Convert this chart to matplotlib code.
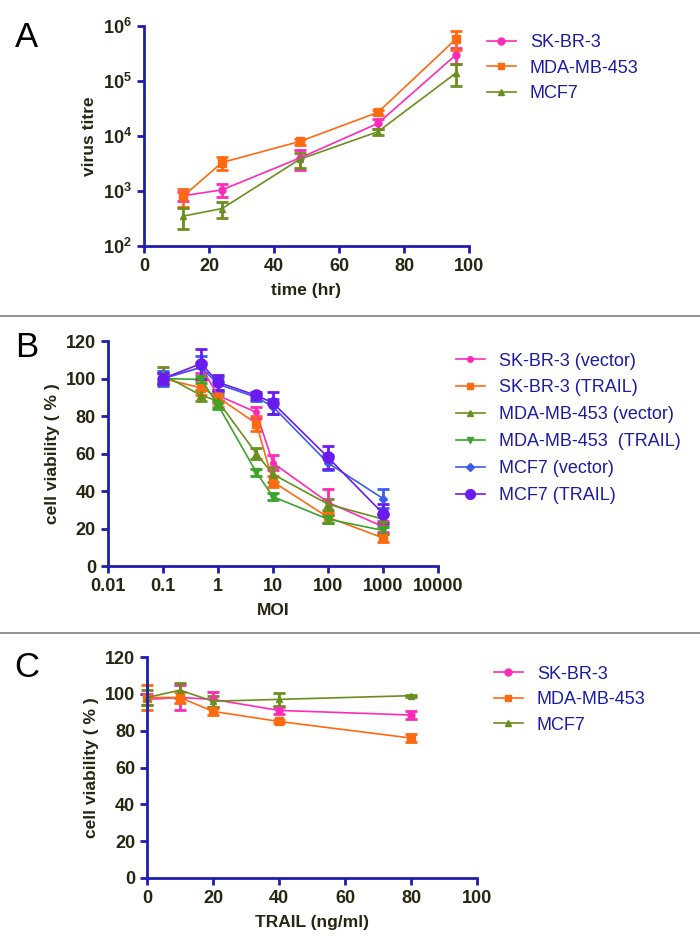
import numpy as np
import matplotlib.pyplot as plt
from matplotlib.lines import Line2D

plt.rcParams['font.family'] = ['Liberation Sans', 'DejaVu Sans']
plt.rcParams['mathtext.fontset'] = 'custom'
plt.rcParams['mathtext.rm'] = 'Liberation Sans:bold'
plt.rcParams['mathtext.bf'] = 'Liberation Sans:bold'

# Panel A: virus titre over time
time_hr = [12, 24, 48, 72, 96]
titre_skbr3 = [820, 1050, 4000, 17000, 300000]
titre_skbr3_err = [150, 280, 1600, 3500, 100000]
titre_mda = [800, 3300, 8000, 27000, 580000]
titre_mda_err = [280, 900, 1000, 2500, 220000]
titre_mcf7 = [350, 480, 3800, 12000, 140000]
titre_mcf7_err = [150, 160, 1200, 1500, 60000]

# Panel B: viability vs MOI
moi = [0.1, 0.5, 1, 5, 10, 100, 1000]
via_skbr3_vec = [100, 106, 91, 82, 55, 34, 21]
via_skbr3_vec_err = [3, 3, 3, 3, 4, 7, 3]
via_skbr3_trail = [100, 95, 90, 76, 45, 26, 15]
via_skbr3_trail_err = [3, 4, 3, 4, 3, 3, 2]
via_mda_vec = [102, 91, 88, 60, 49, 33, 25]
via_mda_vec_err = [4, 3, 3, 3, 4, 3, 3]
via_mda_trail = [100, 99.5, 86, 50, 37, 25, 19]
via_mda_trail_err = [3, 2, 2, 2, 2, 2, 2]
via_mcf7_vec = [100, 106, 97, 90, 85, 55, 36]
via_mcf7_vec_err = [4, 6, 4, 2, 4, 4, 5]
via_mcf7_trail = [100, 108, 98, 91, 87, 58, 28]
via_mcf7_trail_err = [3, 8, 4, 2, 6, 6, 5]

# Panel C: viability vs TRAIL dose
trail_dose = [0, 10, 20, 40, 80]
c_skbr3 = [97, 98, 97, 91, 88.5]
c_skbr3_err = [3, 7, 4, 2, 2]
c_mda = [98, 98, 90.5, 85, 76]
c_mda_err = [7, 3, 2, 1, 2]
c_mcf7 = [98, 102, 96, 97, 99]
c_mcf7_err = [4, 4, 3, 3.5, 0.5]

spine_blue = '#1f1fae'
tick_col = '#262613'
leg_col = '#1c1ca0'
pink = '#ff2ab8'
orange = '#ff6a10'
olive = '#6b8f1c'
green = '#3aa52a'
blue = '#3c5cf0'
purple = '#6a1cf0'

fig = plt.figure(figsize=(7, 9.5), dpi=100)


def style_axes(ax):
    for s in ['top', 'right']:
        ax.spines[s].set_visible(False)
    for s in ['left', 'bottom']:
        ax.spines[s].set_color(spine_blue)
        ax.spines[s].set_linewidth(2)
    ax.tick_params(axis='both', which='major', color=spine_blue, width=2, length=5,
                   labelsize=13, labelcolor=tick_col, direction='out')
    ax.tick_params(axis='both', which='minor', length=0)
    for lab in ax.get_xticklabels() + ax.get_yticklabels():
        lab.set_fontweight('bold')


def draw(ax, x, y, err, color, marker, ms):
    ax.errorbar(x, y, yerr=err, color=color, marker=marker, markersize=ms,
                linewidth=1.2, elinewidth=2, capsize=4.5, capthick=2, clip_on=False)


def legend(entries, x, y, dy, fs):
    handles = [Line2D([0], [0], color=c, marker=m, markersize=ms, linewidth=1.2)
               for _, c, m, ms in entries]
    labels = [e[0] for e in entries]
    fig.legend(handles, labels, loc='upper left', bbox_to_anchor=(x, y),
               frameon=False, fontsize=fs, labelcolor=leg_col,
               handlelength=1.6, handletextpad=0.8, labelspacing=dy)


def labels(ax, xl, yl):
    ax.set_xlabel(xl, fontsize=12.5, fontweight='bold', color=tick_col, labelpad=6)
    ax.set_ylabel(yl, fontsize=12.5, fontweight='bold', color=tick_col)


# ---- Panel A ----
axA = fig.add_axes([0.2057, 0.741, 0.4643, 0.2316])
draw(axA, time_hr, titre_skbr3, titre_skbr3_err, pink, 'o', 5)
draw(axA, time_hr, titre_mda, titre_mda_err, orange, 's', 6)
draw(axA, time_hr, titre_mcf7, titre_mcf7_err, olive, '^', 5)
axA.set_yscale('log')
axA.set_ylim(1e2, 1e6)
axA.set_xlim(0, 100)
axA.set_xticks([0, 20, 40, 60, 80, 100])
axA.set_yticks([1e2, 1e3, 1e4, 1e5, 1e6])
labels(axA, 'time (hr)', 'virus titre')
style_axes(axA)
legend([('SK-BR-3', pink, 'o', 5), ('MDA-MB-453', orange, 's', 5),
        ('MCF7', olive, '^', 5)], 0.672, 0.981, 0.47, 13)

# ---- Panel B ----
axB = fig.add_axes([0.154, 0.4042, 0.4717, 0.2368])
draw(axB, moi, via_skbr3_vec, via_skbr3_vec_err, pink, 'o', 4)
draw(axB, moi, via_skbr3_trail, via_skbr3_trail_err, orange, 's', 6)
draw(axB, moi, via_mda_vec, via_mda_vec_err, olive, '^', 6)
draw(axB, moi, via_mda_trail, via_mda_trail_err, green, 'v', 6)
draw(axB, moi, via_mcf7_vec, via_mcf7_vec_err, blue, 'D', 4)
draw(axB, moi, via_mcf7_trail, via_mcf7_trail_err, purple, 'o', 8)
axB.set_xscale('log')
axB.set_xlim(0.01, 10000)
axB.set_ylim(0, 120)
axB.set_xticks([0.01, 0.1, 1, 10, 100, 1000, 10000])
axB.set_xticklabels(['0.01', '0.1', '1', '10', '100', '1000', '10000'])
axB.set_yticks(np.arange(0, 121, 20))
labels(axB, 'MOI', 'cell viability ( % )')
style_axes(axB)
legend([('SK-BR-3 (vector)', pink, 'o', 4), ('SK-BR-3 (TRAIL)', orange, 's', 5),
        ('MDA-MB-453 (vector)', olive, '^', 5), ('MDA-MB-453  (TRAIL)', green, 'v', 5),
        ('MCF7 (vector)', blue, 'D', 4), ('MCF7 (TRAIL)', purple, 'o', 7)],
       0.628, 0.646, 0.55, 13)

# ---- Panel C ----
axC = fig.add_axes([0.21, 0.0758, 0.4714, 0.2326])
draw(axC, trail_dose, c_skbr3, c_skbr3_err, pink, 'o', 5)
draw(axC, trail_dose, c_mda, c_mda_err, orange, 's', 6)
draw(axC, trail_dose, c_mcf7, c_mcf7_err, olive, '^', 5)
axC.set_xlim(0, 100)
axC.set_ylim(0, 120)
axC.set_xticks([0, 20, 40, 60, 80, 100])
axC.set_yticks(np.arange(0, 121, 20))
labels(axC, 'TRAIL (ng/ml)', 'cell viability ( % )')
style_axes(axC)
legend([('SK-BR-3', pink, 'o', 5), ('MDA-MB-453', orange, 's', 5),
        ('MCF7', olive, '^', 5)], 0.682, 0.3165, 0.47, 13)

# panel letters
for letter, ypos in [('A', 0.961), ('B', 0.634), ('C', 0.297)]:
    fig.text(0.021, ypos, letter, fontsize=25, color='black', va='center')

# separators
for yline in [1 - 316 / 950, 1 - 633 / 950]:
    fig.add_artist(Line2D([0, 1], [yline, yline], color='#808080', linewidth=1.2))

plt.savefig('out.png', dpi=100)
